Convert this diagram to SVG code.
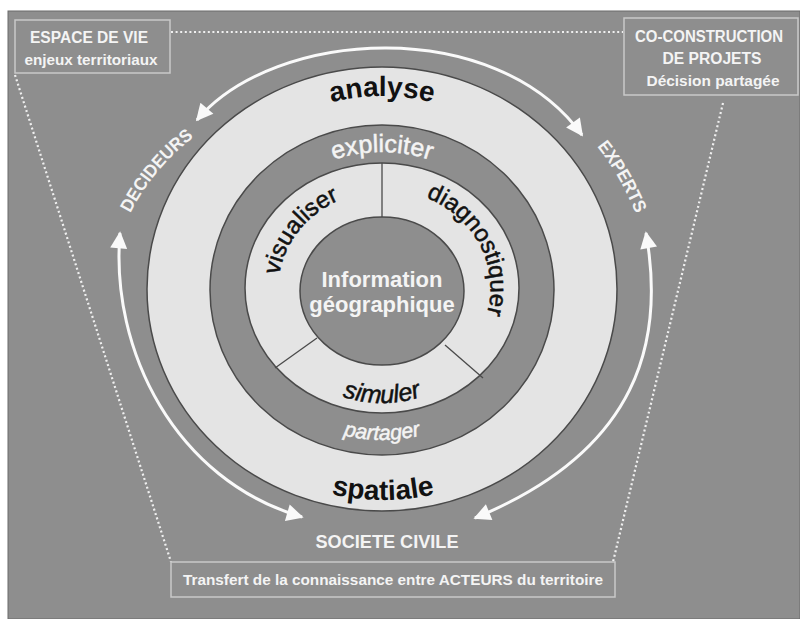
<svg xmlns="http://www.w3.org/2000/svg" width="800" height="619" viewBox="0 0 800 619">
<style>
.ring{stroke:#4a4a4a;stroke-width:1.5}
.light{fill:#e4e4e4}
.dark{fill:#8e8e8e}
.wt{fill:#f4f4f4;font-family:"Liberation Sans",Arial,sans-serif;font-weight:bold;text-anchor:middle}
.wn{fill:#f4f4f4;stroke:#f4f4f4;stroke-width:0.5;font-family:"Liberation Sans",Arial,sans-serif;font-weight:normal;text-anchor:middle}
.bk{fill:#111;font-family:"Liberation Sans",Arial,sans-serif;text-anchor:middle}
.med{stroke:#111;stroke-width:0.5}
.box{fill:none;stroke:#c9c9c9;stroke-width:1.5}
.dot{fill:none;stroke:#f0f0f0;stroke-width:2.2;stroke-dasharray:2 2.6}
.arr{fill:none;stroke:#fafafa;stroke-width:3}
.div{stroke:#4a4a4a;stroke-width:1.3}
</style>
<defs>
<marker id="ah" viewBox="0 0 10 10" refX="9" refY="5" markerWidth="20" markerHeight="17" markerUnits="userSpaceOnUse" orient="auto-start-reverse">
<path d="M0,0 L10,5 L0,10 z" fill="#fafafa"/>
</marker>
<path id="pAnalyse" d="M 182 289 A 200 193 0 0 1 582 289"/>
<path id="pSpatiale" d="M 162 289 A 221 211 0 0 0 604 289"/>
<path id="pExpl" d="M 237 289 A 145 137 0 0 1 527 289"/>
<path id="pPart" d="M 224 289 A 158 151 0 0 0 540 289"/>
<path id="pSim" d="M 262 289 A 120 114 0 0 0 502 289"/>
<path id="pVis" d="M 284.3 321.8 A 106 98 0 0 1 385.6 191"/>
<path id="pDiag" d="M 400.4 190.5 A 108 99 0 0 1 475.8 338"/>
<path id="pDec" d="M 128 218 Q 152 168 198 134"/>
<path id="pExp" d="M 590 138 Q 620 172 640 224"/>
</defs>

<rect x="8" y="11" width="792" height="608" fill="#8e8e8e" stroke="#6a6a6a" stroke-width="1"/>

<g id="connectors">
<path class="dot" d="M 171 32 L 623 32"/>
<path class="dot" d="M 15 75 L 171 562"/>
<path class="dot" d="M 723 103 L 613 562"/>
<path class="arr" d="M 197 120 C 275 28, 495 15, 582 135" marker-start="url(#ah)" marker-end="url(#ah)"/>
<path class="arr" d="M 120 233 C 110 350, 175 480, 302 517" marker-start="url(#ah)" marker-end="url(#ah)"/>
<path class="arr" d="M 646 233 C 665 340, 640 450, 475 518" marker-start="url(#ah)" marker-end="url(#ah)"/>
</g>

<g id="ring-analyse-spatiale">
<ellipse class="ring light" cx="382" cy="289" rx="235" ry="222"/>
<text class="bk" font-size="28" font-weight="bold"><textPath href="#pAnalyse" startOffset="50%">analyse</textPath></text>
<text class="bk" font-size="28" font-weight="bold"><textPath href="#pSpatiale" startOffset="50%">spatiale</textPath></text>
</g>

<g id="ring-expliciter-partager">
<ellipse class="ring dark" cx="382" cy="290" rx="172" ry="165"/>
<text class="wn" font-size="25"><textPath href="#pExpl" startOffset="50%">expliciter</textPath></text>
<text class="wn" font-size="21" font-style="italic"><textPath href="#pPart" startOffset="50%">partager</textPath></text>
</g>

<g id="ring-actions">
<ellipse class="ring light" cx="382" cy="288" rx="137" ry="125"/>
<line class="div" x1="382" y1="217" x2="382" y2="163"/>
<line class="div" x1="317" y1="338" x2="275" y2="368"/>
<line class="div" x1="445" y1="345" x2="483" y2="378"/>
<text class="bk med" font-size="24"><textPath href="#pVis" startOffset="50%">visualiser</textPath></text>
<text class="bk med" font-size="24"><textPath href="#pDiag" startOffset="50%">diagnostiquer</textPath></text>
<text class="bk med" font-size="25" font-style="italic"><textPath href="#pSim" startOffset="50%">simuler</textPath></text>
</g>

<g id="center">
<ellipse class="ring dark" cx="382" cy="291" rx="82" ry="74"/>
<text class="wt" font-size="22" x="382" y="287">Information</text>
<text class="wt" font-size="22" x="382" y="312">géographique</text>
</g>

<g id="decideurs">
<text class="wt" font-size="18"><textPath href="#pDec" startOffset="50%" textLength="100" lengthAdjust="spacingAndGlyphs">DECIDEURS</textPath></text>
</g>
<g id="experts">
<text class="wt" font-size="18"><textPath href="#pExp" startOffset="50%" textLength="78" lengthAdjust="spacingAndGlyphs">EXPERTS</textPath></text>
</g>
<g id="societe-civile">
<text class="wt" font-size="19" x="387" y="548" textLength="143" lengthAdjust="spacingAndGlyphs">SOCIETE CIVILE</text>
</g>

<g id="espace-de-vie">
<rect class="box" x="15" y="20" width="155" height="53"/>
<text class="wt" font-size="16" x="89" y="43" textLength="118" lengthAdjust="spacingAndGlyphs">ESPACE DE VIE</text>
<text class="wt" font-size="15" x="91" y="65" textLength="133" lengthAdjust="spacingAndGlyphs">enjeux territoriaux</text>
</g>

<g id="co-construction">
<rect class="box" x="624" y="18" width="174" height="77"/>
<text class="wt" font-size="16" x="709" y="42" textLength="148" lengthAdjust="spacingAndGlyphs">CO-CONSTRUCTION</text>
<text class="wt" font-size="16" x="712" y="64" textLength="99" lengthAdjust="spacingAndGlyphs">DE PROJETS</text>
<text class="wt" font-size="15" x="713" y="86" textLength="133" lengthAdjust="spacingAndGlyphs">Décision partagée</text>
</g>

<g id="transfert">
<rect class="box" x="171" y="562" width="444" height="35"/>
<text class="wt" font-size="15" x="393" y="585" textLength="420" lengthAdjust="spacingAndGlyphs">Transfert de la connaissance entre ACTEURS du territoire</text>
</g>
</svg>
